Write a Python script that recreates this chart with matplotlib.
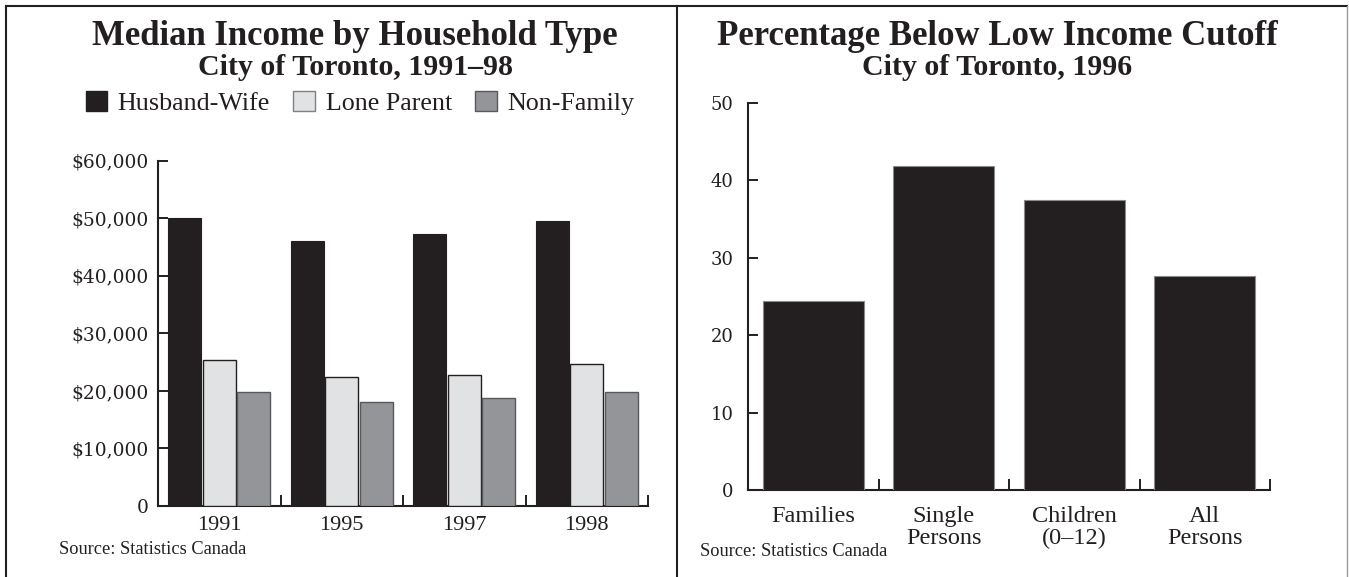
import matplotlib.pyplot as plt
from matplotlib.lines import Line2D
from matplotlib.patches import Patch

# Данные: медианный доход
years = ['1991', '1995', '1997', '1998']
husband_wife = [50000, 46100, 47300, 49600]
lone_parent = [25400, 22500, 22700, 24600]
non_family = [19800, 18100, 18700, 19800]
series_names = ['Husband-Wife', 'Lone Parent', 'Non-Family']

# Данные: доля ниже порога
groups = ['Families', 'Single\nPersons', 'Children\n(0–12)', 'All\nPersons']
percent = [24.4, 41.8, 37.4, 27.6]

dark = '#231f20'
light = '#e1e2e4'
mid = '#939598'

plt.rcParams['font.family'] = ['Liberation Serif', 'DejaVu Serif']
plt.rcParams['text.color'] = dark

W, H = 1349, 577
fig = plt.figure(figsize=(W / 100, H / 100), dpi=100)


def style_axes(ax, ymax, yticks, ypad, xsize):
    for s in ['top', 'right']:
        ax.spines[s].set_visible(False)
    for s in ['left', 'bottom']:
        ax.spines[s].set_linewidth(1.5)
        ax.spines[s].set_color(dark)
    ax.set_xlim(-0.5, 3.5)
    ax.set_ylim(0, ymax)
    ax.set_yticks(yticks)
    ax.tick_params(axis='y', direction='in', length=7, width=1.4, color=dark,
                   pad=ypad, labelcolor=dark)
    # засечки на границах групп, подписи по центру
    ax.set_xticks([0.5, 1.5, 2.5, 3.5])
    ax.set_xticklabels([])
    ax.tick_params(axis='x', which='major', direction='in', length=8, width=1.4, color=dark)
    ax.set_xticks(range(4), minor=True)
    ax.tick_params(axis='x', which='minor', length=0, labelsize=xsize, labelcolor=dark)


# ---- левая панель ----
ax1 = fig.add_axes([158 / W, 1 - 506 / H, 490 / W, 345.3 / H])
step = 0.28
bw = 0.27
x = range(len(years))
ax1.bar([i - step for i in x], husband_wife, bw, color=dark, edgecolor=dark, linewidth=0.8, zorder=3)
ax1.bar([i for i in x], lone_parent, bw, color=light, edgecolor=dark, linewidth=1.0, zorder=3)
ax1.bar([i + step for i in x], non_family, bw, color=mid, edgecolor='#58595b', linewidth=1.0, zorder=3)
style_axes(ax1, 60000, range(0, 60001, 10000), 6.5, 16)
ax1.set_yticklabels(['0'] + ['${:,}'.format(v) for v in range(10000, 60001, 10000)],
                    family='DejaVu Serif', fontsize=13.4)
ax1.set_xticklabels(years, minor=True)
ax1.tick_params(axis='x', which='minor', pad=7.5)

# ---- правая панель ----
ax2 = fig.add_axes([748 / W, 1 - 490 / H, 522 / W, 387.3 / H])
ax2.bar(range(4), percent, 0.773, color=dark, edgecolor='#8a8a8a', linewidth=0.8, zorder=3)
style_axes(ax2, 50, range(0, 51, 10), 10.5, 17.5)
ax2.set_yticklabels([str(v) for v in range(0, 51, 10)], family='DejaVu Serif', fontsize=13)
ax2.set_xticklabels(groups, minor=True, linespacing=1.08)
ax2.tick_params(axis='x', which='minor', pad=11.5)

# ---- заголовки ----
fig.text(355 / W, 1 - 45 / H, 'Median Income by Household Type', ha='center', va='baseline',
         fontsize=25, fontweight='bold')
fig.text(355 / W, 1 - 75 / H, 'City of Toronto, 1991–98', ha='center', va='baseline',
         fontsize=21.5, fontweight='bold')
fig.text(997 / W, 1 - 45 / H, 'Percentage Below Low Income Cutoff', ha='center', va='baseline',
         fontsize=25, fontweight='bold')
fig.text(997 / W, 1 - 75 / H, 'City of Toronto, 1996', ha='center', va='baseline',
         fontsize=21.5, fontweight='bold')

# легенда
handles = [Patch(facecolor=dark, edgecolor=dark),
           Patch(facecolor=light, edgecolor='#808080'),
           Patch(facecolor=mid, edgecolor='#58595b')]
fig.legend(handles, series_names, loc='center', bbox_to_anchor=(360 / W, 1 - 103 / H), ncol=3,
           frameon=False, fontsize=18.7, handlelength=0.84, handleheight=0.84,
           handletextpad=0.4, columnspacing=0.9, borderpad=0)

fig.text(59 / W, 1 - 549 / H, 'Source: Statistics Canada', ha='left', va='center', fontsize=13.2)
fig.text(700 / W, 1 - 551 / H, 'Source: Statistics Canada', ha='left', va='center', fontsize=13.2)

# рамки панелей
def fline(x0, y0, x1, y1, color=dark, lw=1.5):
    fig.add_artist(Line2D([x0 / W, x1 / W], [1 - y0 / H, 1 - y1 / H], color=color, lw=lw))

fline(6, 6, 1347, 6)
fline(6, 6, 6, H)
fline(677, 6, 677, H)
fline(1347, 6, 1347, H, color='#9a9a9a', lw=1.0)

fig.savefig('out.png', dpi=100)
